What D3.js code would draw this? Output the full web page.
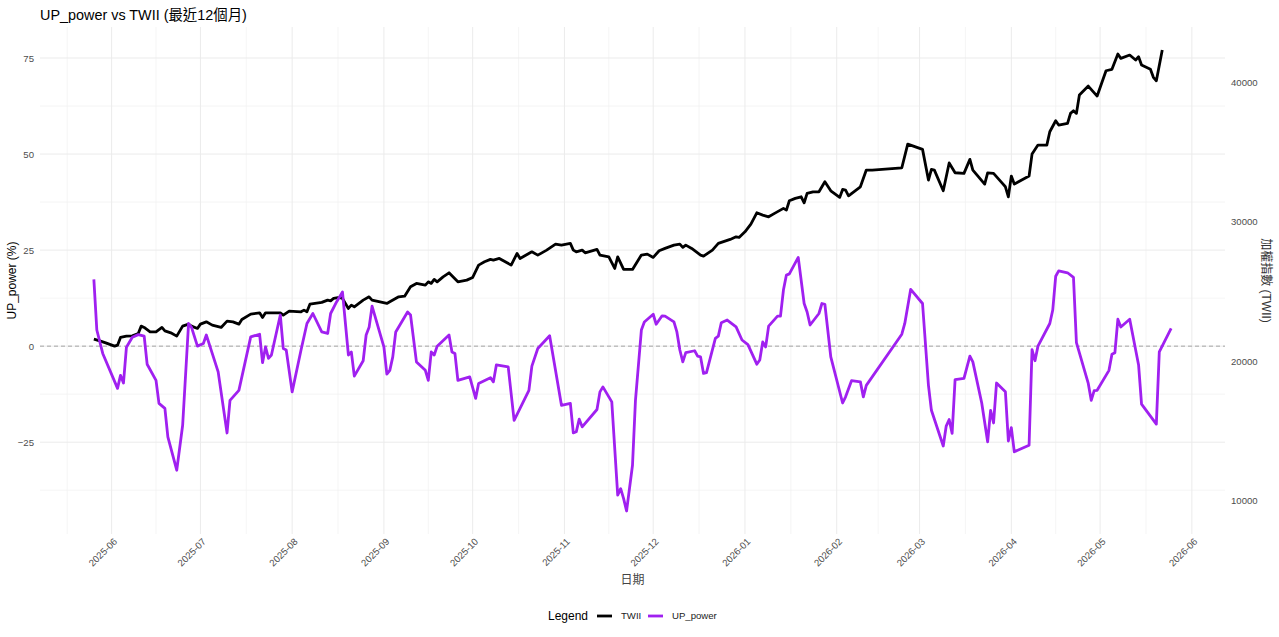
<!DOCTYPE html>
<html>
<head>
<meta charset="utf-8">
<script src="https://cdnjs.cloudflare.com/ajax/libs/d3/7.8.5/d3.min.js"></script>
<style>
  body { margin: 0; background: #fff; }
  text { font-family: "Liberation Sans", Arial, "Noto Sans CJK TC", sans-serif; }
</style>
</head>
<body>
<div id="chart"></div>
<script>
// UP_power (%)
var upDates = [
  "2025-05-26", "2025-05-27", "2025-05-29", "2025-06-03", "2025-06-04", "2025-06-05", "2025-06-06", "2025-06-08",
  "2025-06-10", "2025-06-12", "2025-06-13", "2025-06-16", "2025-06-17", "2025-06-19", "2025-06-20", "2025-06-23",
  "2025-06-25", "2025-06-27", "2025-06-28", "2025-06-30", "2025-07-02", "2025-07-03", "2025-07-05", "2025-07-07",
  "2025-07-10", "2025-07-11", "2025-07-14", "2025-07-18", "2025-07-21", "2025-07-22", "2025-07-23", "2025-07-24",
  "2025-07-25", "2025-07-28", "2025-07-29", "2025-07-30", "2025-08-01", "2025-08-04", "2025-08-06", "2025-08-08",
  "2025-08-11", "2025-08-13", "2025-08-14", "2025-08-16", "2025-08-18", "2025-08-20", "2025-08-21", "2025-08-22",
  "2025-08-25", "2025-08-26", "2025-08-27", "2025-08-28", "2025-09-01", "2025-09-02", "2025-09-03", "2025-09-04",
  "2025-09-05", "2025-09-08", "2025-09-09", "2025-09-10", "2025-09-12", "2025-09-15", "2025-09-16", "2025-09-17",
  "2025-09-18", "2025-09-19", "2025-09-23", "2025-09-24", "2025-09-25", "2025-09-26", "2025-09-30", "2025-10-02",
  "2025-10-03", "2025-10-07", "2025-10-08", "2025-10-09", "2025-10-13", "2025-10-15", "2025-10-17", "2025-10-20",
  "2025-10-21", "2025-10-23", "2025-10-27", "2025-10-31", "2025-11-03", "2025-11-04", "2025-11-05", "2025-11-06",
  "2025-11-07", "2025-11-12", "2025-11-13", "2025-11-14", "2025-11-17", "2025-11-19", "2025-11-20", "2025-11-21",
  "2025-11-22", "2025-11-24", "2025-11-25", "2025-11-27", "2025-11-28", "2025-12-01", "2025-12-02", "2025-12-04",
  "2025-12-05", "2025-12-08", "2025-12-09", "2025-12-10", "2025-12-11", "2025-12-12", "2025-12-15", "2025-12-16",
  "2025-12-17", "2025-12-18", "2025-12-19", "2025-12-22", "2025-12-23", "2025-12-24", "2025-12-26", "2025-12-29",
  "2025-12-31", "2026-01-02", "2026-01-05", "2026-01-06", "2026-01-07", "2026-01-08", "2026-01-09", "2026-01-12",
  "2026-01-13", "2026-01-14", "2026-01-15", "2026-01-16", "2026-01-19", "2026-01-21", "2026-01-22", "2026-01-23",
  "2026-01-26", "2026-01-27", "2026-01-28", "2026-01-30", "2026-02-03", "2026-02-04", "2026-02-06", "2026-02-09",
  "2026-02-10", "2026-02-11", "2026-02-23", "2026-02-24", "2026-02-26", "2026-03-02", "2026-03-04", "2026-03-05",
  "2026-03-09", "2026-03-10", "2026-03-11", "2026-03-12", "2026-03-13", "2026-03-16", "2026-03-18", "2026-03-19",
  "2026-03-22", "2026-03-24", "2026-03-25", "2026-03-26", "2026-03-27", "2026-03-30", "2026-03-31", "2026-04-01",
  "2026-04-02", "2026-04-07", "2026-04-08", "2026-04-09", "2026-04-10", "2026-04-14", "2026-04-15", "2026-04-16",
  "2026-04-17", "2026-04-20", "2026-04-22", "2026-04-23", "2026-04-27", "2026-04-28", "2026-04-29", "2026-04-30",
  "2026-05-04", "2026-05-05", "2026-05-06", "2026-05-07", "2026-05-08", "2026-05-11", "2026-05-14", "2026-05-15",
  "2026-05-20", "2026-05-21", "2026-05-25"
];
var upValues = [
  17.4, 4.2, -1.9, -11.0, -7.6, -9.6, -0.3, 2.3,
  3.0, 2.6, -4.7, -8.9, -14.9, -16.2, -23.6, -32.3,
  -20.6, 5.9, 4.9, 0.0, 0.7, 2.9, -1.9, -6.7,
  -22.6, -14.1, -11.5, 2.4, 3.1, -4.3, -0.2, -3.2,
  -2.3, 8.1, -0.6, -1.0, -11.9, -1.0, 5.9, 8.5,
  3.7, 3.3, 8.5, 11.5, 14.1, -2.3, -1.5, -7.8,
  -3.8, 2.9, 4.9, 10.4, -0.2, -7.3, -6.3, -2.8,
  3.7, 7.6, 8.9, 8.1, -4.1, -6.3, -8.9, -1.5,
  -2.3, 0.0, 2.9, -1.5, -1.9, -8.9, -8.0, -13.6,
  -9.7, -8.2, -9.3, -4.9, -5.4, -19.3, -16.2, -11.5,
  -5.2, -0.6, 2.7, -15.4, -14.9, -22.6, -22.3, -19.0,
  -21.0, -16.5, -11.9, -10.6, -14.5, -38.8, -37.1, -39.7,
  -42.9, -31.0, -14.1, 4.2, 6.3, 8.3, 5.7, 7.9,
  7.8, 6.3, 3.7, -1.0, -4.1, -1.7, -1.2, -2.6,
  -2.8, -7.1, -6.9, 2.0, 2.6, 6.1, 6.8, 5.0,
  1.6, 0.4, -4.7, -3.6, 1.1, -0.2, 5.2, 7.8,
  7.8, 14.6, 18.5, 18.8, 23.1, 11.1, 8.9, 5.5,
  8.5, 11.1, 10.9, -2.8, -14.8, -13.2, -9.0, -9.3,
  -13.2, -10.2, 3.1, 5.9, 14.8, 11.1, -10.2, -16.7,
  -26.0, -20.8, -19.1, -22.7, -8.7, -8.4, -2.6, -4.1,
  -14.8, -24.9, -16.7, -20.0, -9.6, -11.9, -24.7, -21.2,
  -27.5, -25.8, -0.9, -3.8, 0.0, 5.9, 9.4, 18.2,
  19.6, 19.1, 17.9, 0.9, -9.7, -14.1, -11.6, -11.5,
  -6.3, -2.1, -1.7, 7.0, 5.0, 7.0, -4.9, -15.1,
  -20.3, -1.5, 4.6
];

// TWII close
var twiiDates = [
  "2025-05-26", "2025-05-28", "2025-05-30", "2025-06-02", "2025-06-03", "2025-06-04", "2025-06-06", "2025-06-08",
  "2025-06-10", "2025-06-11", "2025-06-12", "2025-06-14", "2025-06-16", "2025-06-18", "2025-06-19", "2025-06-21",
  "2025-06-23", "2025-06-25", "2025-06-27", "2025-06-28", "2025-06-30", "2025-07-01", "2025-07-03", "2025-07-05",
  "2025-07-08", "2025-07-10", "2025-07-12", "2025-07-14", "2025-07-15", "2025-07-18", "2025-07-21", "2025-07-22",
  "2025-07-23", "2025-07-28", "2025-07-29", "2025-07-31", "2025-08-04", "2025-08-05", "2025-08-06", "2025-08-07",
  "2025-08-11", "2025-08-13", "2025-08-14", "2025-08-15", "2025-08-17", "2025-08-18", "2025-08-20", "2025-08-21",
  "2025-08-22", "2025-08-25", "2025-08-27", "2025-08-28", "2025-09-02", "2025-09-03", "2025-09-06", "2025-09-08",
  "2025-09-10", "2025-09-12", "2025-09-15", "2025-09-16", "2025-09-17", "2025-09-18", "2025-09-19", "2025-09-21",
  "2025-09-23", "2025-09-26", "2025-09-29", "2025-10-01", "2025-10-03", "2025-10-05", "2025-10-07", "2025-10-08",
  "2025-10-10", "2025-10-12", "2025-10-14", "2025-10-16", "2025-10-17", "2025-10-21", "2025-10-23", "2025-10-26",
  "2025-10-29", "2025-10-31", "2025-11-03", "2025-11-04", "2025-11-05", "2025-11-07", "2025-11-08", "2025-11-12",
  "2025-11-13", "2025-11-16", "2025-11-18", "2025-11-19", "2025-11-21", "2025-11-24", "2025-11-27", "2025-11-29",
  "2025-12-01", "2025-12-03", "2025-12-05", "2025-12-08", "2025-12-10", "2025-12-11", "2025-12-12", "2025-12-14",
  "2025-12-17", "2025-12-18", "2025-12-21", "2025-12-23", "2025-12-27", "2025-12-29", "2025-12-30", "2026-01-01",
  "2026-01-03", "2026-01-05", "2026-01-07", "2026-01-09", "2026-01-11", "2026-01-14", "2026-01-15", "2026-01-16",
  "2026-01-18", "2026-01-20", "2026-01-21", "2026-01-22", "2026-01-24", "2026-01-26", "2026-01-28", "2026-01-30",
  "2026-02-02", "2026-02-03", "2026-02-04", "2026-02-05", "2026-02-09", "2026-02-11", "2026-02-13", "2026-02-23",
  "2026-02-25", "2026-03-02", "2026-03-04", "2026-03-05", "2026-03-06", "2026-03-09", "2026-03-11", "2026-03-13",
  "2026-03-16", "2026-03-18", "2026-03-19", "2026-03-23", "2026-03-24", "2026-03-26", "2026-03-29", "2026-03-30",
  "2026-03-31", "2026-04-01", "2026-04-02", "2026-04-07", "2026-04-08", "2026-04-10", "2026-04-13", "2026-04-14",
  "2026-04-16", "2026-04-17", "2026-04-20", "2026-04-21", "2026-04-22", "2026-04-23", "2026-04-24", "2026-04-27",
  "2026-04-30", "2026-05-03", "2026-05-05", "2026-05-07", "2026-05-08", "2026-05-11", "2026-05-13", "2026-05-14",
  "2026-05-15", "2026-05-18", "2026-05-19", "2026-05-20", "2026-05-22"
];
var twiiValues = [
  21577, 21455, 21312, 21075, 21147, 21699, 21792, 21814,
  21986, 22509, 22416, 22100, 22100, 22416, 22172, 22029,
  21792, 22509, 22652, 22509, 22344, 22652, 22817, 22581,
  22416, 22867, 22817, 22652, 22989, 23369, 23462, 23133,
  23462, 23462, 23297, 23584, 23534, 23656, 23534, 24086,
  24208, 24373, 24323, 24495, 24566, 24495, 23778, 24014,
  23892, 24373, 24609, 24373, 24136, 24251, 24609, 24659,
  25326, 25570, 25448, 25685, 25570, 25857, 25685, 26043,
  26330, 25685, 25806, 26000, 26882, 27118, 27290, 27240,
  27362, 27118, 26882, 27720, 27362, 27835, 27599, 27957,
  28387, 28315, 28437, 27957, 27835, 27957, 27763, 28007,
  27599, 27477, 26645, 27477, 26574, 26574, 27599, 27670,
  27434, 27907, 28079, 28315, 28387, 28151, 28315, 28079,
  27599, 27527, 27957, 28437, 28724, 28910, 28867, 29269,
  29821, 30631, 30466, 30344, 30588, 30946, 30824, 31491,
  31663, 31778, 31348, 32022, 32136, 32136, 32853, 32208,
  31735, 32308, 32258, 31850, 32495, 33692, 33692, 33857,
  35556, 35176, 32975, 33742, 33692, 32208, 34200, 33500,
  33455, 34459, 33692, 32688, 33498, 33455, 32738, 32495,
  31778, 33262, 32688, 33262, 34839, 35484, 35484, 36437,
  37226, 36918, 37039, 37756, 37943, 37756, 39068, 39713,
  38996, 40810, 40910, 42007, 41699, 41935, 41577, 41814,
  41219, 40910, 40337, 40093, 42294
];

var leftTicks = [-25, 0, 25, 50, 75];
var rightTicks = [10000, 20000, 30000, 40000];
var monthTicks = [
  "2025-06-01", "2025-07-01", "2025-08-01", "2025-09-01", "2025-10-01", "2025-11-01", "2025-12-01",
  "2026-01-01", "2026-02-01", "2026-03-01", "2026-04-01", "2026-05-01", "2026-06-01"
];
var seriesNames = ["TWII", "UP_power"];
var seriesColors = ["#000000", "#A020F0"];

// TWII drawn on the UP_power scale: twii = base + up * perUnit
var twiiBase = d3.min(twiiValues);
var twiiPerUnit = 275.3;

var width = 1279, height = 637;
var panel = { left: 40, right: 1225, top: 27, bottom: 534 };

var parseDate = d3.timeParse("%Y-%m-%d");
var upData = upDates.map(function(d, i) { return { date: parseDate(d), value: upValues[i] }; });
var twiiData = twiiDates.map(function(d, i) {
  return { date: parseDate(d), value: (twiiValues[i] - twiiBase) / twiiPerUnit };
});
var monthDates = monthTicks.map(parseDate);

function expand(ext) {
  var pad = (ext[1] - ext[0]) * 0.05;
  return [ext[0] - pad, ext[1] + pad];
}

var allDates = upData.concat(twiiData).map(function(d) { return +d.date; });
var xDom = expand(d3.extent(allDates));
var x = d3.scaleTime()
  .domain([new Date(xDom[0]), new Date(xDom[1])])
  .range([panel.left, panel.right]);

var yDom = expand(d3.extent(upData.concat(twiiData), function(d) { return d.value; }));
var y = d3.scaleLinear().domain(yDom).range([panel.bottom, panel.top]);
var yRight = d3.scaleLinear()
  .domain(yDom.map(function(v) { return twiiBase + v * twiiPerUnit; }))
  .range([panel.bottom, panel.top]);

var svg = d3.select("#chart").append("svg")
  .attr("width", width)
  .attr("height", height);

// minor breaks halfway between the majors
var step = leftTicks[1] - leftTicks[0];
var yMinor = d3.range(leftTicks[0] - step / 2, yDom[1], step).filter(function(v) { return v > yDom[0]; });
var xMinor = [];
monthDates.forEach(function(d, i) {
  var next = monthDates[i + 1];
  if (i === 0) {
    xMinor.push(new Date(+d - (monthDates[1] - d) / 2));
  }
  if (next) xMinor.push(new Date((+d + +next) / 2));
});
xMinor = xMinor.filter(function(d) { return x(d) >= panel.left && x(d) <= panel.right; });

var grid = svg.append("g");
grid.selectAll(".hminor")
  .data(yMinor)
  .enter().append("line")
  .attr("x1", panel.left).attr("x2", panel.right)
  .attr("y1", function(d) { return y(d); })
  .attr("y2", function(d) { return y(d); })
  .attr("stroke", "#f0f0f0")
  .attr("stroke-width", 0.7);
grid.selectAll(".vminor")
  .data(xMinor)
  .enter().append("line")
  .attr("y1", panel.top).attr("y2", panel.bottom)
  .attr("x1", function(d) { return x(d); })
  .attr("x2", function(d) { return x(d); })
  .attr("stroke", "#f0f0f0")
  .attr("stroke-width", 0.7);
grid.selectAll(".hmajor")
  .data(leftTicks)
  .enter().append("line")
  .attr("x1", panel.left).attr("x2", panel.right)
  .attr("y1", function(d) { return y(d); })
  .attr("y2", function(d) { return y(d); })
  .attr("stroke", "#ebebeb")
  .attr("stroke-width", 1);
grid.selectAll(".vmajor")
  .data(monthDates)
  .enter().append("line")
  .attr("y1", panel.top).attr("y2", panel.bottom)
  .attr("x1", function(d) { return x(d); })
  .attr("x2", function(d) { return x(d); })
  .attr("stroke", "#ebebeb")
  .attr("stroke-width", 1);

// zero reference
svg.append("line")
  .attr("x1", panel.left).attr("x2", panel.right)
  .attr("y1", y(0)).attr("y2", y(0))
  .attr("stroke", "#a6a6a6")
  .attr("stroke-width", 1)
  .attr("stroke-dasharray", "4,3");

var line = d3.line()
  .x(function(d) { return x(d.date); })
  .y(function(d) { return y(d.value); });

svg.append("path")
  .datum(twiiData)
  .attr("d", line)
  .attr("fill", "none")
  .attr("stroke", seriesColors[0])
  .attr("stroke-width", 2.8)
  .attr("stroke-linejoin", "round");

svg.append("path")
  .datum(upData)
  .attr("d", line)
  .attr("fill", "none")
  .attr("stroke", seriesColors[1])
  .attr("stroke-width", 2.8)
  .attr("stroke-linejoin", "round");

// axes (no lines, ggplot minimal look)
var leftAxis = svg.append("g")
  .attr("transform", "translate(" + (panel.left - 3) + ",0)")
  .call(d3.axisLeft(y).tickValues(leftTicks).tickSize(0).tickPadding(3));
var rightAxis = svg.append("g")
  .attr("transform", "translate(" + (panel.right + 3) + ",0)")
  .call(d3.axisRight(yRight).tickValues(rightTicks).tickSize(0).tickPadding(3).tickFormat(d3.format("d")));
[leftAxis, rightAxis].forEach(function(a) {
  a.select(".domain").remove();
  a.selectAll("text")
    .attr("fill", "#4d4d4d")
    .style("font-size", "9.6px")
    .style("font-family", '"Liberation Sans", Arial, sans-serif');
});

svg.append("g").selectAll("text")
  .data(monthDates)
  .enter().append("text")
  .attr("transform", function(d) { return "translate(" + x(d) + ",536) rotate(-45)"; })
  .attr("dy", "0.9em")
  .attr("text-anchor", "end")
  .attr("fill", "#4d4d4d")
  .style("font-size", "9.6px")
  .text(d3.timeFormat("%Y-%m"));

// titles
svg.append("text")
  .attr("x", 40)
  .attr("y", 20)
  .style("font-size", "14.4px")
  .attr("fill", "#000")
  .text("UP_power vs TWII (最近12個月)");

svg.append("text")
  .attr("transform", "translate(16," + ((panel.top + panel.bottom) / 2) + ") rotate(-90)")
  .attr("text-anchor", "middle")
  .style("font-size", "12px")
  .attr("fill", "#000")
  .text("UP_power (%)");

svg.append("text")
  .attr("transform", "translate(1262," + ((panel.top + panel.bottom) / 2) + ") rotate(90)")
  .attr("text-anchor", "middle")
  .style("font-size", "12px")
  .attr("fill", "#333")
  .text("加權指數 (TWII)");

svg.append("text")
  .attr("x", (panel.left + panel.right) / 2)
  .attr("y", 584)
  .attr("text-anchor", "middle")
  .style("font-size", "12px")
  .attr("fill", "#444")
  .text("日期");

// legend
var legend = svg.append("g").attr("transform", "translate(548,616)");
legend.append("text")
  .attr("x", 0)
  .attr("dy", "0.35em")
  .style("font-size", "12px")
  .attr("fill", "#000")
  .text("Legend");
var keyX = [49, 100];
var item = legend.selectAll(".key")
  .data(seriesNames)
  .enter().append("g")
  .attr("transform", function(d, i) { return "translate(" + keyX[i] + ",0)"; });
item.append("line")
  .attr("x1", 0).attr("x2", 15)
  .attr("stroke", function(d, i) { return seriesColors[i]; })
  .attr("stroke-width", 2.8);
item.append("text")
  .attr("x", 24)
  .attr("dy", "0.35em")
  .style("font-size", "9.6px")
  .attr("fill", "#222")
  .text(function(d) { return d; });
</script>
</body>
</html>
